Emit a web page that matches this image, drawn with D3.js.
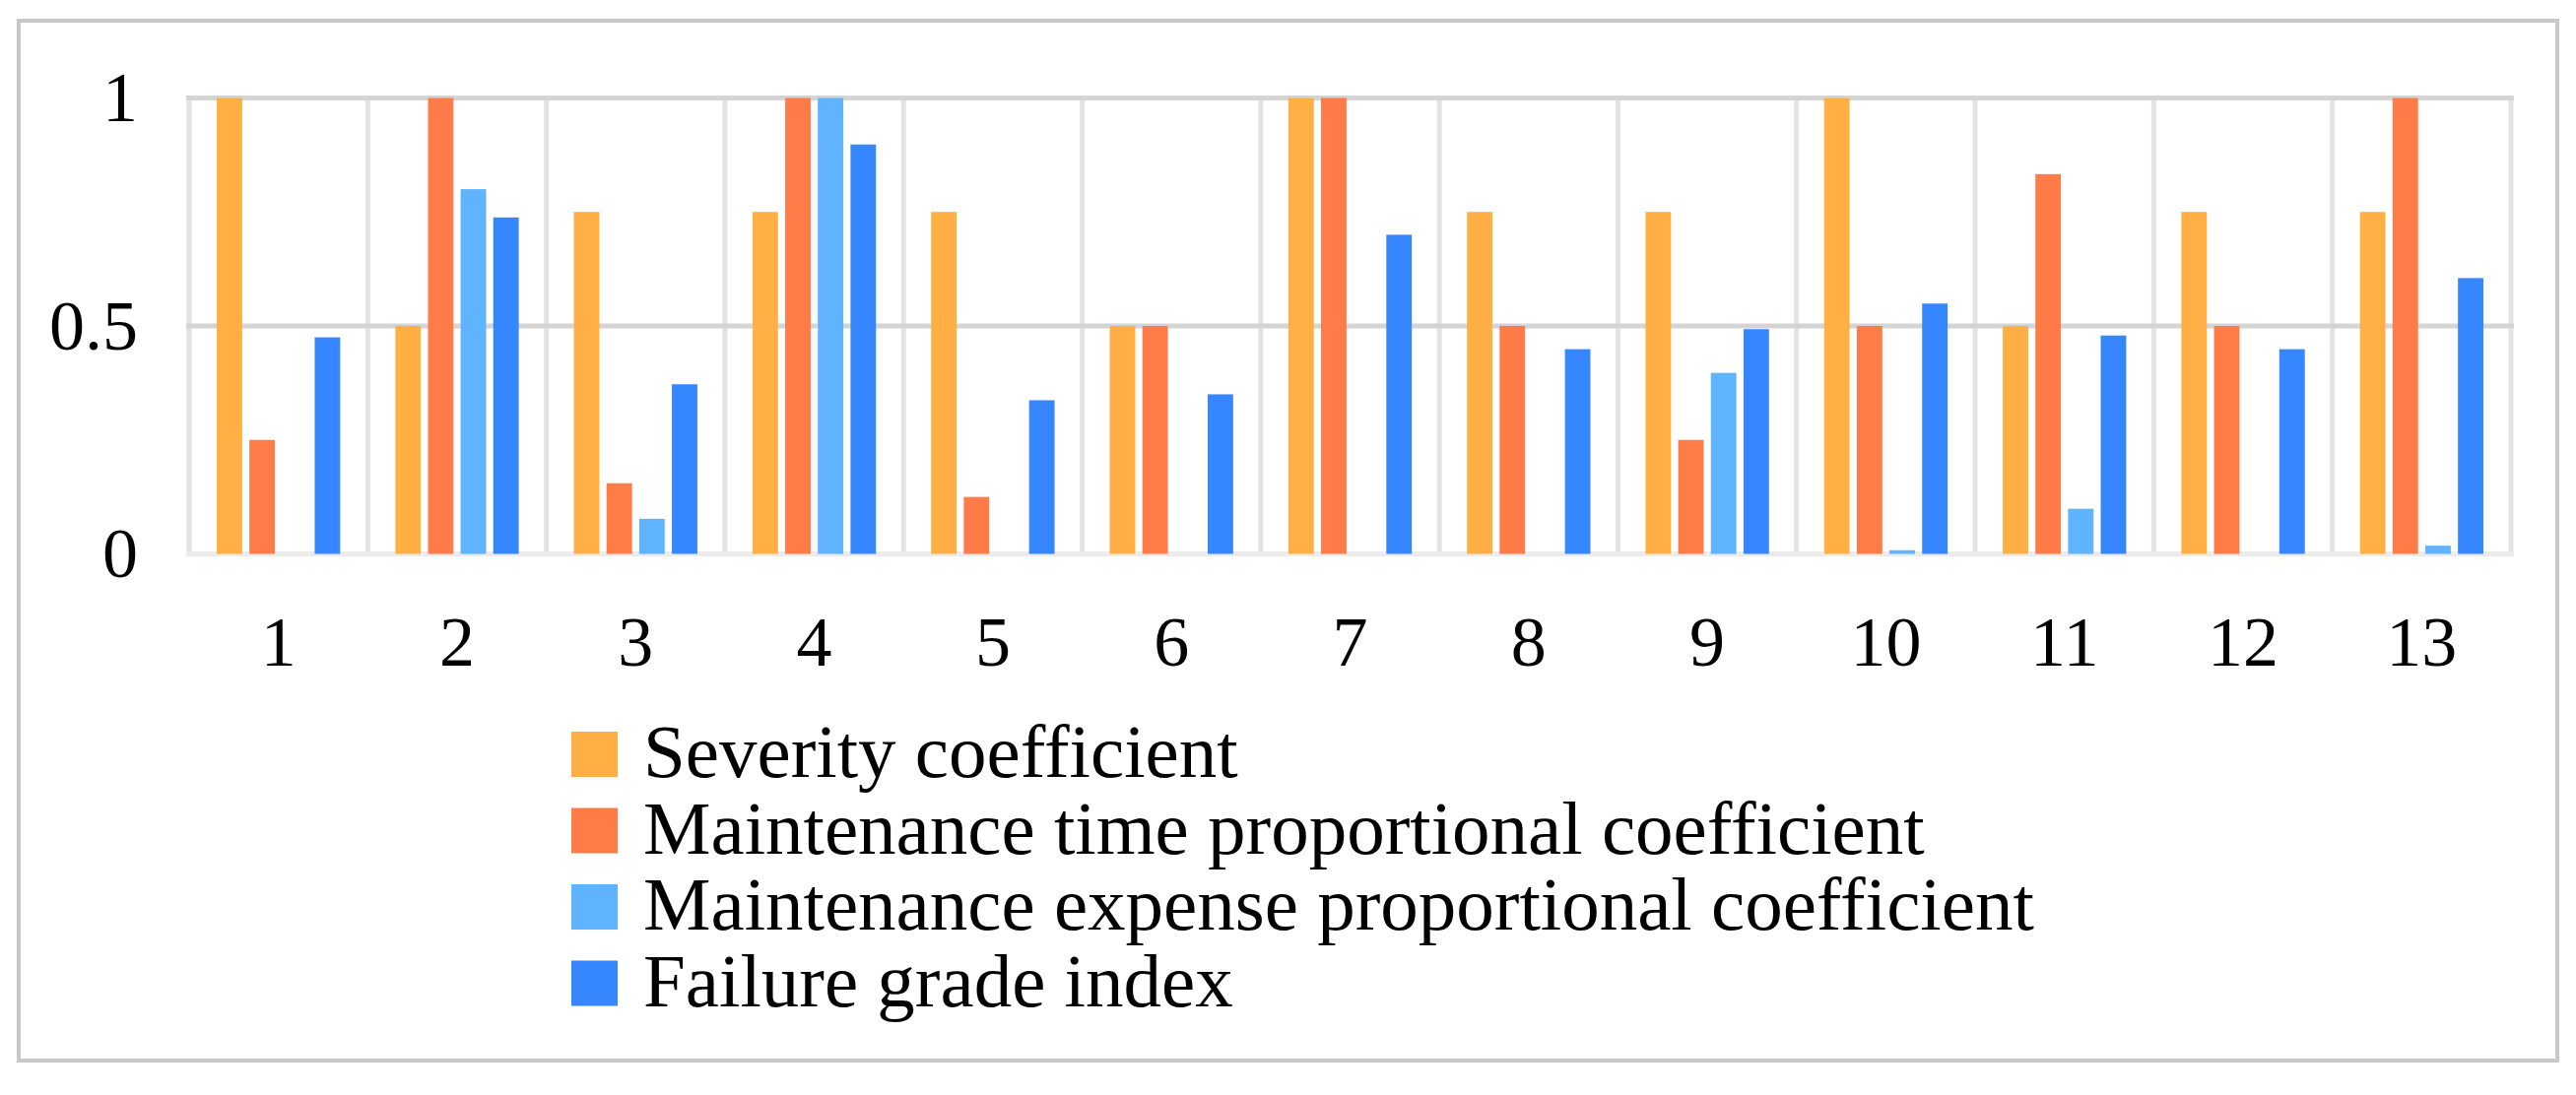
<!DOCTYPE html>
<html>
<head>
<meta charset="utf-8">
<script src="https://cdn.jsdelivr.net/npm/d3@7"></script>
<style>
body { margin: 0; background: #fff; }
text { font-family: "Liberation Serif", "DejaVu Serif", serif; fill: #000; }
</style>
</head>
<body>
<svg id="chart"></svg>
<script>
var width = 2615, height = 1112;

// data
var categories = ['1','2','3','4','5','6','7','8','9','10','11','12','13'];
var seriesNames = ['Severity coefficient', 'Maintenance time proportional coefficient',
	'Maintenance expense proportional coefficient', 'Failure grade index'];
var severity = [1, 0.5, 0.75, 0.75, 0.75, 0.5, 1, 0.75, 0.75, 1, 0.5, 0.75, 0.75];
var timeCoef = [0.25, 1, 0.155, 1, 0.125, 0.5, 1, 0.5, 0.25, 0.5, 0.833, 0.5, 1];
var expenseCoef = [0, 0.8, 0.077, 1, 0, 0, 0, 0, 0.397, 0.008, 0.099, 0, 0.018];
var failureIdx = [0.475, 0.738, 0.372, 0.898, 0.337, 0.35, 0.7, 0.449, 0.493, 0.549, 0.479, 0.449, 0.605];
var yTicks = [0, 0.5, 1];
var colors = ['#ffaf43', '#ff7b47', '#5fb3ff', '#3586ff'];

var series = [severity, timeCoef, expenseCoef, failureIdx];

var svg = d3.select('#chart').attr('width', width).attr('height', height);

// outer frame
svg.append('rect')
	.attr('x', 19).attr('y', 21)
	.attr('width', 2577).attr('height', 1056)
	.attr('fill', 'none')
	.attr('stroke', '#c8c8c8')
	.attr('stroke-width', 4);

var plot = {left: 192, right: 2549, top: 99.5, bottom: 562.5};

var x0 = d3.scaleBand()
	.domain(categories)
	.range([plot.left, plot.right])
	.padding(0);

var x1 = d3.scaleBand()
	.domain(d3.range(series.length))
	.range([28, x0.bandwidth() - 28])
	.paddingInner(0.22);

var y = d3.scaleLinear()
	.domain([0, 1])
	.range([plot.bottom, plot.top]);

// vertical category lines
var g = svg.append('g');
g.selectAll('line.v')
	.data(categories.concat(['end']))
	.enter().append('line')
	.attr('class', 'v')
	.attr('x1', function(d, i){ return plot.left + i * x0.step(); })
	.attr('x2', function(d, i){ return plot.left + i * x0.step(); })
	.attr('y1', plot.top)
	.attr('y2', plot.bottom)
	.attr('stroke', '#e3e3e3')
	.attr('stroke-width', 5);

// horizontal grid
g.selectAll('line.h')
	.data(yTicks)
	.enter().append('line')
	.attr('class', 'h')
	.attr('x1', plot.left - 3)
	.attr('x2', plot.right + 3)
	.attr('y1', function(d){ return y(d); })
	.attr('y2', function(d){ return y(d); })
	.attr('stroke', function(d){ return d == 0 ? '#ececec' : '#d4d4d4'; })
	.attr('stroke-width', 5);

// bars
for (var s = 0; s < series.length; s++) {
	svg.append('g')
		.selectAll('rect')
		.data(series[s])
		.enter().append('rect')
		.attr('x', function(d, i){ return x0(categories[i]) + x1(s); })
		.attr('y', function(d){ return y(d); })
		.attr('width', x1.bandwidth())
		.attr('height', function(d){ return y(0) - y(d); })
		.attr('fill', colors[s]);
}

// y axis labels
var yAxis = d3.axisLeft(y).tickValues(yTicks).tickSize(0).tickPadding(0)
	.tickFormat(function(d){ return d == 0 || d == 1 ? d3.format('d')(d) : d3.format('.1f')(d); });
var ya = svg.append('g').attr('transform', 'translate(140,0)').call(yAxis);
ya.select('.domain').remove();
ya.selectAll('text')
	.style('font-family', '"Liberation Serif", serif')
	.style('font-size', '72px')
	.attr('fill', '#000')
	.attr('dy', '0.32em');

// x axis labels
var xAxis = d3.axisBottom(x0).tickSize(0).tickPadding(0);
var xa = svg.append('g').attr('transform', 'translate(0,' + 676 + ')').call(xAxis);
xa.select('.domain').remove();
xa.selectAll('text')
	.style('font-family', '"Liberation Serif", serif')
	.style('font-size', '72px')
	.attr('fill', '#000')
	.attr('y', 0)
	.attr('dy', 0);

// legend
var legend = svg.append('g').attr('transform', 'translate(580,743)');
var items = legend.selectAll('g')
	.data(seriesNames)
	.enter().append('g')
	.attr('transform', function(d, i){ return 'translate(0,' + i * 77.5 + ')'; });
items.append('rect')
	.attr('width', 47).attr('height', 46)
	.attr('fill', function(d, i){ return colors[i]; });
items.append('text')
	.attr('x', 73)
	.attr('y', 46)
	.style('font-size', '77px')
	.text(function(d){ return d; });
</script>
</body>
</html>
